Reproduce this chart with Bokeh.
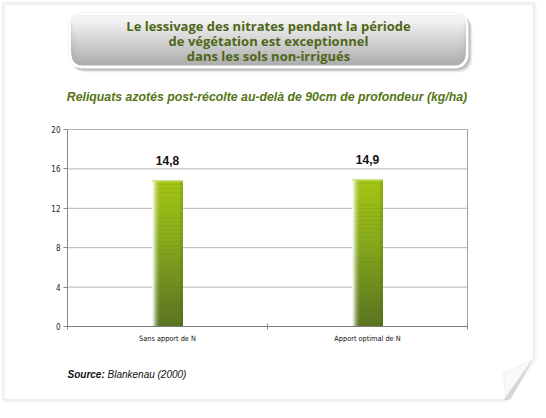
from bokeh.plotting import figure
from bokeh.models import (Range1d, LinearAxis, FixedTicker, Label, BoxAnnotation,
                          PolyAnnotation, ColumnDataSource)
from bokeh.embed import file_html
from bokeh.resources import INLINE
from bokeh.core.properties import value

# ---------------- data ----------------
categories = ["Sans apport de N", "Apport optimal de N"]
values = [14.8, 14.9]
value_labels = ["14,8", "14,9"]
y_ticks = [0, 4, 8, 12, 16, 20]
y_max = 20
title_lines = ["Le lessivage des nitrates pendant la période",
               "de végétation est exceptionnel",
               "dans les sols non-irrigués"]
subtitle = "Reliquats azotés post-récolte au-delà de 90cm de profondeur (kg/ha)"
source_label = "Source:"
source_text = "Blankenau (2000)"

# ---------------- layout (pixels) ----------------
W, H = 546, 418
FL, FR, FT, FB = 67, 467, 129, 326          # chart area on the canvas
ncat = len(categories)
ppx = (FR - FL) / ncat                        # pixels per x unit
ppy = (FB - FT) / y_max                       # pixels per y unit

p = figure(width=W, height=H, output_backend="svg", toolbar_location=None,
           x_range=Range1d(-FL / ppx, (W - FL) / ppx),
           y_range=Range1d(-(H - FB) / ppy, FB / ppy),
           min_border=0, x_axis_location=None, y_axis_location=None)
p.background_fill_color = "white"
p.border_fill_color = "white"
p.outline_line_color = None
p.grid.visible = False

CU = dict(left_units="canvas", right_units="canvas", top_units="canvas", bottom_units="canvas")

# ---------------- paper decoration ----------------
paper_x = [2, 533, 533, 504, 2]
paper_y = [2, 2, 358, 399, 399]
for off, col, lw in [(2, "#f0f0f0", 3), (1, "#e4e4e4", 2)]:
    p.add_layout(PolyAnnotation(xs=[v + off for v in paper_x], ys=[v + off for v in paper_y],
                                xs_units="canvas", ys_units="canvas",
                                fill_alpha=0, line_color=col, line_width=lw, level="underlay"))
p.add_layout(PolyAnnotation(xs=paper_x, ys=paper_y, xs_units="canvas", ys_units="canvas",
                            fill_alpha=0, line_color="#d8d8d8", line_width=1.5, level="underlay"))
# curled corner
p.add_layout(PolyAnnotation(xs=[533, 510, 503], ys=[358, 399, 400], xs_units="canvas", ys_units="canvas",
                            fill_color="#c8c8c8", fill_alpha=0.7, line_alpha=0, level="underlay"))
p.add_layout(PolyAnnotation(xs=[503, 531, 505], ys=[372, 360, 397], xs_units="canvas", ys_units="canvas",
                            fill_color="#efefef", line_color="#d4d4d4", line_width=1, level="underlay"))

# ---------------- title box ----------------
BL, BR_, BT, BBm = 68, 468, 12, 68
for off, alpha in [(4, 0.08), (3, 0.12), (2, 0.18), (1, 0.22)]:
    p.add_layout(BoxAnnotation(left=BL + off, right=BR_ + off, top=BT + off, bottom=BBm + off, **CU,
                               fill_color="#606060", fill_alpha=alpha, line_alpha=0, border_radius=13,
                               level="underlay"))
p.add_layout(BoxAnnotation(left=BL, right=BR_, top=BT, bottom=BBm, **CU,
                           fill_color="white", fill_alpha=1, line_color="#dddddd", line_width=1,
                           border_radius=13, level="underlay"))
IL, IR, IT, IB = 71, 465, 15, 65
n_g = 20
c_bot = (0xae, 0xae, 0xae)
c_top = (0xf3, 0xf3, 0xf3)
for i in range(n_g):
    t = i / (n_g - 1)
    bot = IB - t * (IB - IT - 6)
    c = tuple(int(round(c_bot[k] + (c_top[k] - c_bot[k]) * t)) for k in range(3))
    p.add_layout(BoxAnnotation(left=IL, right=IR, top=IT, bottom=bot, **CU,
                               fill_color="#%02x%02x%02x" % c, fill_alpha=1, line_alpha=0,
                               border_radius=10, level="underlay"))

for i, line in enumerate(title_lines):
    p.add_layout(Label(x=268, y=25.5 + 15 * i, x_units="canvas", y_units="canvas",
                       text=line, text_align="center", text_baseline="middle",
                       text_font="Open Sans", text_font_style="bold", text_font_size="13px",
                       text_color="#4e6719"))

p.add_layout(Label(x=266.5, y=96, x_units="canvas", y_units="canvas",
                   text=subtitle, text_align="center", text_baseline="middle",
                   text_font="Liberation Sans", text_font_style="bold italic", text_font_size="12.3px",
                   text_color="#567516"))

p.add_layout(Label(x=67, y=374, x_units="canvas", y_units="canvas",
                   text=source_label, text_align="left", text_baseline="middle",
                   text_font="Liberation Sans", text_font_style="bold italic", text_font_size="10px",
                   text_color="#111111"))
p.add_layout(Label(x=107, y=374, x_units="canvas", y_units="canvas",
                   text=source_text, text_align="left", text_baseline="middle",
                   text_font="Liberation Sans", text_font_style="italic", text_font_size="10px",
                   text_color="#111111"))

# ---------------- grid and frame (data coordinates) ----------------
p.segment(x0=[0] * len(y_ticks), x1=[ncat] * len(y_ticks), y0=y_ticks, y1=y_ticks,
          line_color="#b4b4b4", line_width=1)
p.segment(x0=[ncat], x1=[ncat], y0=[0], y1=[y_max], line_color="#a0a0a0", line_width=1)

# ---------------- axes ----------------
narrow = "'Liberation Sans Narrow', 'DejaVu Sans Condensed', 'Roboto Condensed', sans-serif"
yaxis = LinearAxis(ticker=FixedTicker(ticks=y_ticks, minor_ticks=[]), fixed_location=0,
                   bounds=(0, y_max))
yaxis.axis_line_color = "#8a8a8a"
yaxis.major_tick_line_color = "#8a8a8a"
yaxis.major_tick_in = 0
yaxis.major_tick_out = 4
yaxis.major_label_standoff = 3
yaxis.major_label_text_font = narrow
yaxis.major_label_text_font_size = "8px"
yaxis.major_label_text_color = "#222222"
p.add_layout(yaxis, "left")

xpos = [i + 0.5 for i in range(ncat)]
xaxis = LinearAxis(ticker=FixedTicker(ticks=xpos, minor_ticks=list(range(ncat + 1))), fixed_location=0,
                   bounds=(0, ncat))
xaxis.major_label_overrides = {x: c for x, c in zip(xpos, categories)}
xaxis.axis_line_color = "#7a7a7a"
xaxis.major_tick_line_color = None
xaxis.minor_tick_line_color = "#8a8a8a"
xaxis.minor_tick_in = 3
xaxis.minor_tick_out = 3
xaxis.major_label_standoff = 1
xaxis.major_label_text_font = narrow
xaxis.major_label_text_font_size = "7.3px"
xaxis.major_label_text_color = "#111111"
p.add_layout(xaxis, "below")

# ---------------- bars ----------------
bw = 31 / ppx
src = ColumnDataSource(dict(x=xpos, top=values, label=value_labels,
                            edge=[v - 1.2 / ppy for v in values]))
p.vbar(x="x", top="top", bottom=0, width=bw, source=src, fill_color="#6f8c1f", line_alpha=0)

stops = [(0.0, (0x5a, 0x73, 0x22)), (0.25, (0x6c, 0x89, 0x1f)), (0.6, (0x89, 0xaa, 0x1a)), (1.0, (0xa2, 0xc5, 0x14))]
def shade(t):
    for (t0, c0), (t1, c1) in zip(stops[:-1], stops[1:]):
        if t <= t1:
            f = (t - t0) / (t1 - t0)
            return "#%02x%02x%02x" % tuple(int(round(c0[k] + (c1[k] - c0[k]) * f)) for k in range(3))
    return "#%02x%02x%02x" % stops[-1][1]
n_s = 36
sx_, sb, st, sc = [], [], [], []
for x, v in zip(xpos, values):
    for i in range(n_s):
        sx_.append(x); sb.append(v * i / n_s); st.append(v * (i + 1) / n_s); sc.append(shade((i + 0.5) / n_s))
p.vbar(x=sx_, bottom=sb, top=st, width=bw, fill_color=sc, line_alpha=0)

strip = 1 / ppx
hl = [0.92, 0.8, 0.62, 0.45, 0.3, 0.18, 0.09, 0.04]
hx, ht, ha = [], [], []
for x, v in zip(xpos, values):
    for k, a in enumerate(hl):
        hx.append(x - bw / 2 + (k + 0.5) * strip); ht.append(v); ha.append(a)
p.vbar(x=hx, top=ht, bottom=0, width=strip, fill_color="white", fill_alpha=ha, line_alpha=0)
rx, rt = [], []
for x, v in zip(xpos, values):
    rx.append(x + bw / 2 - 1.5 * strip); rt.append(v)
p.vbar(x=rx, top=rt, bottom=0, width=3 * strip, fill_color="#3e5210", fill_alpha=0.15, line_alpha=0)
p.vbar(x="x", top="top", bottom="edge", width=bw, source=src,
       fill_color="#d0e66a", fill_alpha=0.6, line_alpha=0)

p.text(x="x", y="top", text="label", source=src, text_align="center", text_baseline="bottom",
       y_offset=-16, text_font=value("Liberation Sans"), text_font_style="bold",
       text_font_size="12px", text_color="#111111")

open("out.html", "w").write(file_html(p, INLINE))
